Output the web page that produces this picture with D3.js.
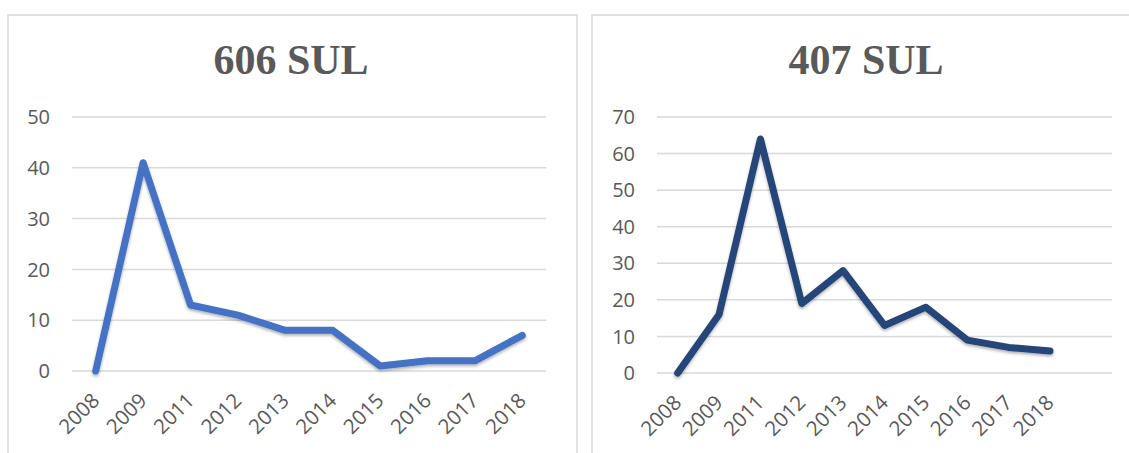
<!DOCTYPE html>
<html>
<head>
<meta charset="utf-8">
<script src="https://cdn.jsdelivr.net/npm/d3@7"></script>
<style>
body{margin:0;background:#fff;}
</style>
</head>
<body>
<div id="wrapper"></div>
<script>
// Data
const years606 = ['2008','2009','2011','2012','2013','2014','2015','2016','2017','2018'];
const values606 = [0, 41, 13, 11, 8, 8, 1, 2, 2, 7];
const ticks606 = [0, 10, 20, 30, 40, 50];

// the 407 chart keeps one empty category at the end
const years407 = ['2008','2009','2011','2012','2013','2014','2015','2016','2017','2018',''];
const values407 = [0, 16, 64, 19, 28, 13, 18, 9, 7, 6, null];
const ticks407 = [0, 10, 20, 30, 40, 50, 60, 70];

const width = 1129, height = 453;
const svg = d3.select('#wrapper').append('svg')
    .attr('width', width).attr('height', height);

// soft shadow under the lines
const defs = svg.append('defs');
const f = defs.append('filter').attr('id','shadow')
    .attr('x','-10%').attr('y','-10%').attr('width','120%').attr('height','130%');
f.append('feDropShadow').attr('dx',0).attr('dy',2).attr('stdDeviation',1.5)
    .attr('flood-color','#000').attr('flood-opacity',0.3);

function drawPanel(opts) {
    const {frame, title, titleX, cats, vals, ticks, plot, color} = opts;
    const g = svg.append('g');
    g.append('rect')
        .attr('x', frame.x).attr('y', frame.y)
        .attr('width', frame.w).attr('height', frame.h)
        .attr('fill', 'none').attr('stroke', '#d9d9d9').attr('stroke-width', 1.5);

    g.append('text')
        .attr('x', titleX).attr('y', 74)
        .attr('text-anchor', 'middle')
        .attr('font-family', '"Liberation Serif", "Times New Roman", serif')
        .attr('font-weight', 'bold').attr('font-size', 42)
        .attr('fill', '#595959')
        .text(title);

    const x = d3.scaleBand().domain(cats).range([plot.left, plot.right]);
    const y = d3.scaleLinear().domain([0, d3.max(ticks)]).range([plot.bottom, plot.top]);

    // gridlines
    g.append('g').selectAll('line').data(ticks).join('line')
        .attr('x1', plot.left).attr('x2', plot.right)
        .attr('y1', d => y(d)).attr('y2', d => y(d))
        .attr('stroke', '#d9d9d9').attr('stroke-width', 1.5);

    // y labels
    g.append('g').selectAll('text').data(ticks).join('text')
        .attr('x', plot.left - 22).attr('y', d => y(d))
        .attr('dy', '0.36em').attr('text-anchor', 'end')
        .attr('font-family', '"Open Sans", sans-serif').attr('font-size', 20)
        .attr('fill', '#595959')
        .text(d => d);

    // x labels, rotated
    g.append('g').selectAll('text').data(cats.filter(c => c !== '')).join('text')
        .attr('transform', d => `translate(${x(d) + x.bandwidth()/2 + 5},${plot.bottom + 31}) rotate(-45)`)
        .attr('text-anchor', 'end')
        .attr('font-family', '"Open Sans", sans-serif').attr('font-size', 20.5)
        .attr('fill', '#595959')
        .text(d => d);

    const pts = cats.map((c, i) => [c, vals[i]]).filter(d => d[1] !== null);
    const line = d3.line()
        .x(d => x(d[0]) + x.bandwidth()/2)
        .y(d => y(d[1]));
    g.append('path').datum(pts)
        .attr('d', line)
        .attr('fill', 'none').attr('stroke', color)
        .attr('stroke-width', 7)
        .attr('stroke-linejoin', 'round').attr('stroke-linecap', 'round')
        .attr('filter', 'url(#shadow)');
}

drawPanel({
    frame: {x: 8, y: 15, w: 569, h: 460},
    title: '606 SUL', titleX: 291,
    cats: years606, vals: values606, ticks: ticks606,
    plot: {left: 72, right: 546, top: 117, bottom: 371},
    color: '#4472c4'
});

drawPanel({
    frame: {x: 592, y: 15, w: 560, h: 460},
    title: '407 SUL', titleX: 866,
    cats: years407, vals: values407, ticks: ticks407,
    plot: {left: 657, right: 1112, top: 117, bottom: 373},
    color: '#264478'
});
</script>
</body>
</html>
